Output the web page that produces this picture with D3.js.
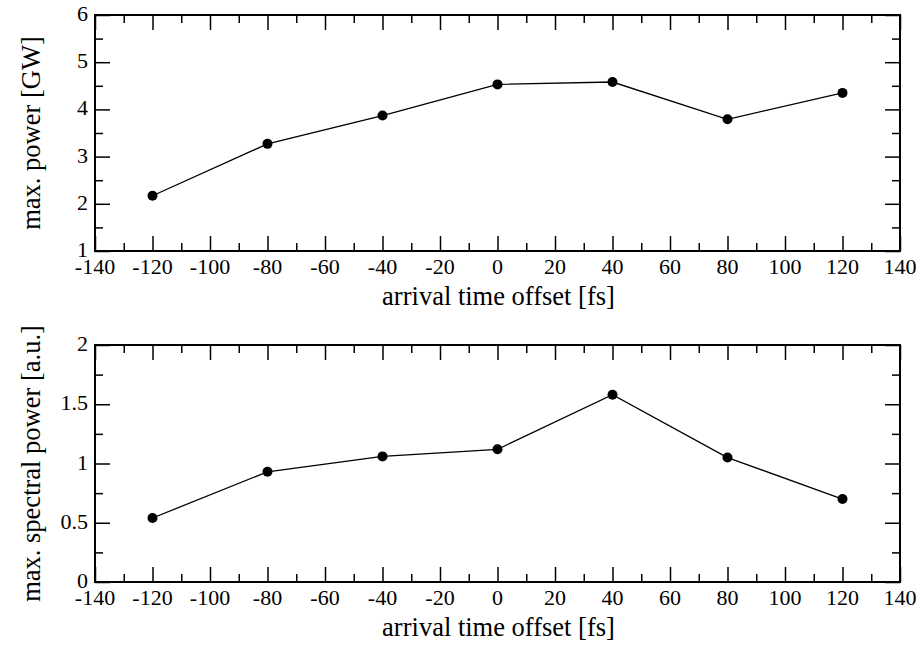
<!DOCTYPE html>
<html>
<head>
<meta charset="utf-8">
<script src="https://cdn.jsdelivr.net/npm/d3@7"></script>
<style>
  body { margin: 0; background: #fff; }
  svg { display: block; }
</style>
</head>
<body>
<div id="chart"></div>
<script>
const offsets = [-120, -80, -40, 0, 40, 80, 120];
const maxPower = [2.17, 3.27, 3.87, 4.53, 4.58, 3.79, 4.35];
const spectralPower = [0.54, 0.93, 1.06, 1.12, 1.58, 1.05, 0.70];

const xTicks = [-140, -120, -100, -80, -60, -40, -20, 0, 20, 40, 60, 80, 100, 120, 140];
const powerTicks = [1, 2, 3, 4, 5, 6];
const spectralTicks = [0, 0.5, 1, 1.5, 2];

const width = 920, height = 645;
const font = "'Liberation Serif', 'Times New Roman', serif";

const svg = d3.select("#chart").append("svg")
    .attr("width", width)
    .attr("height", height);

function drawPanel(opts) {
    const { top, bottom, yDomain, yTicks, yMinor, values, yLabel } = opts;
    const left = 95, right = 900;

    const x = d3.scaleLinear().domain([-140, 140]).range([left, right]);
    const y = d3.scaleLinear().domain(yDomain).range([bottom, top]);

    const g = svg.append("g");

    const xMinor = d3.range(-130, 140, 20);

    // ticks on all four sides, pointing inward
    const tickStyle = sel => sel.attr("stroke", "#000").attr("stroke-width", 1.5);
    const ticks = (axis, pos, values, size) => {
        g.append("g").attr("transform", pos)
            .call(axis.tickValues(values).tickSize(size).tickFormat(""))
            .call(a => a.select(".domain").remove())
            .call(a => tickStyle(a.selectAll(".tick line")));
    };

    ticks(d3.axisTop(x), `translate(0,${bottom})`, xTicks, 15);
    ticks(d3.axisTop(x), `translate(0,${bottom})`, xMinor, 8);
    ticks(d3.axisBottom(x), `translate(0,${top})`, xTicks, 15);
    ticks(d3.axisBottom(x), `translate(0,${top})`, xMinor, 8);
    ticks(d3.axisRight(y), `translate(${left},0)`, yTicks, 15);
    ticks(d3.axisRight(y), `translate(${left},0)`, yMinor, 8);
    ticks(d3.axisLeft(y), `translate(${right},0)`, yTicks, 15);
    ticks(d3.axisLeft(y), `translate(${right},0)`, yMinor, 8);

    // frame
    g.append("rect")
        .attr("x", left).attr("y", top)
        .attr("width", right - left).attr("height", bottom - top)
        .attr("fill", "none")
        .attr("stroke", "#000")
        .attr("stroke-width", 2);

    // tick labels
    g.selectAll(".xlab")
        .data(xTicks)
        .join("text")
        .attr("x", d => x(d))
        .attr("y", bottom + 23)
        .attr("text-anchor", "middle")
        .style("font-family", font)
        .style("font-size", "22px")
        .text(d => d);

    g.selectAll(".ylab")
        .data(yTicks)
        .join("text")
        .attr("x", left - 7)
        .attr("y", d => y(d) + 6)
        .attr("text-anchor", "end")
        .style("font-family", font)
        .style("font-size", "22px")
        .text(d => d);

    // axis titles
    g.append("text")
        .attr("x", (left + right) / 2 + 1)
        .attr("y", bottom + 54)
        .attr("text-anchor", "middle")
        .style("font-family", font)
        .style("font-size", "26.5px")
        .text("arrival time offset [fs]");

    g.append("text")
        .attr("transform", `translate(40,${(top + bottom) / 2}) rotate(-90)`)
        .attr("text-anchor", "middle")
        .style("font-family", font)
        .style("font-size", "26.5px")
        .text(yLabel);

    // data
    const pts = offsets.map((o, i) => [o, values[i]]);
    g.append("path")
        .datum(pts)
        .attr("fill", "none")
        .attr("stroke", "#000")
        .attr("stroke-width", 1.3)
        .attr("d", d3.line().x(d => x(d[0])).y(d => y(d[1])));

    g.selectAll(".pt")
        .data(pts)
        .join("circle")
        .attr("cx", d => x(d[0]))
        .attr("cy", d => y(d[1]))
        .attr("r", 5)
        .attr("fill", "#000");
}

drawPanel({
    top: 15, bottom: 251,
    yDomain: [1, 6],
    yTicks: powerTicks,
    yMinor: d3.range(1.5, 6, 1),
    values: maxPower,
    yLabel: "max. power [GW]"
});

drawPanel({
    top: 345, bottom: 582,
    yDomain: [0, 2],
    yTicks: spectralTicks,
    yMinor: [0.25, 0.75, 1.25, 1.75],
    values: spectralPower,
    yLabel: "max. spectral power [a.u.]"
});
</script>
</body>
</html>
